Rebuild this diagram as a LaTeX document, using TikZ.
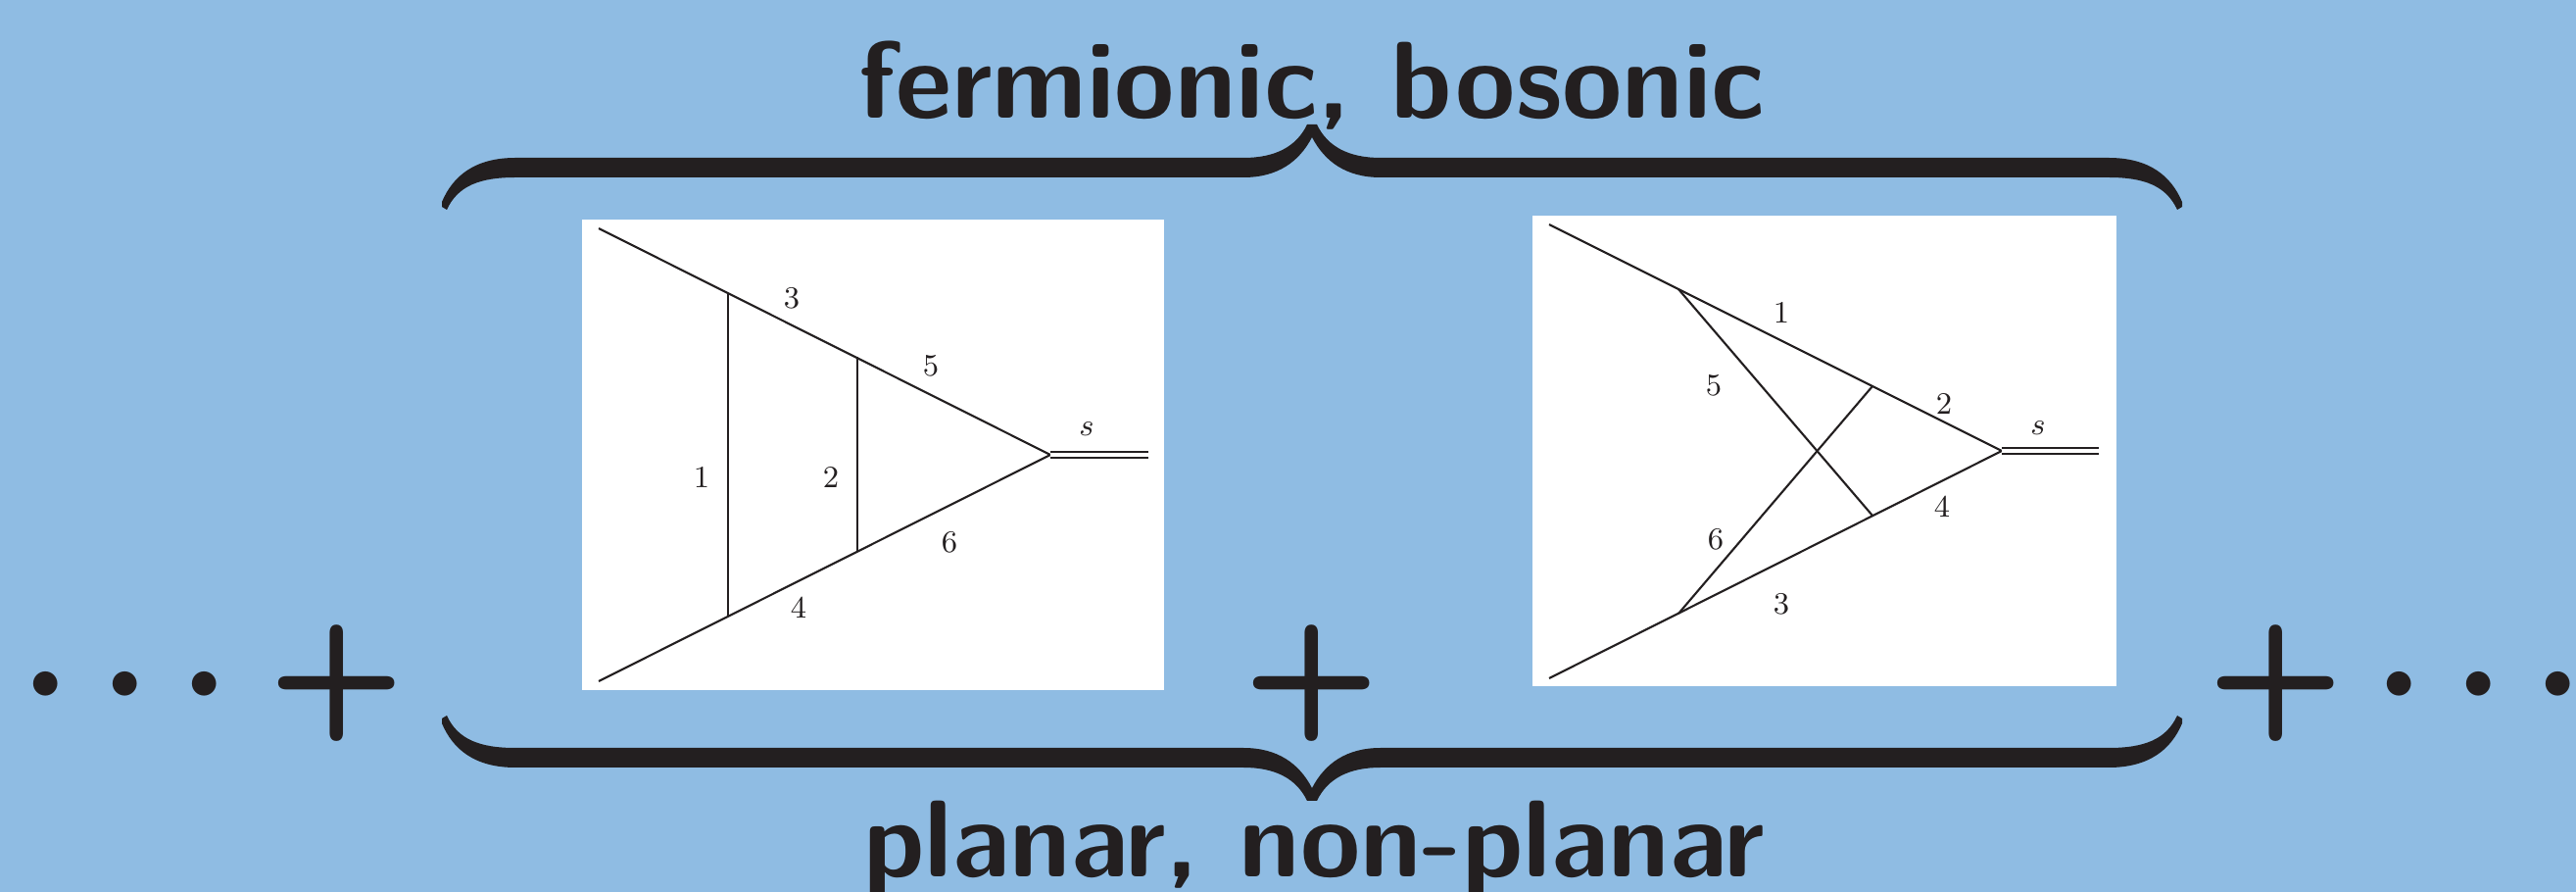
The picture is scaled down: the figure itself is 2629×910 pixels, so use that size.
\documentclass[tikz,border=0pt]{standalone}
\definecolor{skyback}{HTML}{8FBCE3}
\definecolor{inkdark}{HTML}{231F20}
\begin{document}
\begin{tikzpicture}[
  x=0.01cm, y=-0.01cm,
  every node/.style={inner sep=0pt},
  bigword/.style={anchor=base, text=inkdark, font=\fontsize{31.7}{36}\selectfont\sffamily\bfseries},
  bigplus/.style={anchor=base, text=inkdark, font=\fontsize{46}{52}\selectfont\sffamily\bfseries},
  bigdots/.style={anchor=base, scale=1.81, text=inkdark, font=\fontsize{24.88}{30}\selectfont\boldmath},
  panelbox/.style={fill=white, minimum height=4.8cm},
  edgeline/.style={line width=0.6pt, color=inkdark},
  massline/.style={edgeline, double=white, double distance=0.04cm},
  linenum/.style={font=\fontsize{9}{11}\selectfont, text=inkdark},
  bracefill/.pic={
    \fill[inkdark] (-888,206) .. controls (-877,180) and (-855,161) .. (-813,161) -- (-70,161)
      .. controls (-38,161) and (-16,150) .. (-5,127) -- (5,127)
      .. controls (16,150) and (38,161) .. (70,161) -- (813,161)
      .. controls (855,161) and (877,180) .. (888,206) -- (888,211) -- (883,214)
      .. controls (872,190) and (850,181) .. (813,181) -- (70,181)
      .. controls (35,181) and (13,165) .. (0,140)
      .. controls (-13,165) and (-35,181) .. (-70,181) -- (-813,181)
      .. controls (-850,181) and (-872,190) .. (-883,214) -- (-888,211) -- cycle;
  }
]
\useasboundingbox (0,0) rectangle (2629,910);
\fill[skyback] (0,0) rectangle (2629,910);

% Captions
\node[bigword] (topword) at (1339,121) {fermionic, bosonic};
\node[bigword] (lowword) at (1341,895) {planar, non-planar};

% Braces
\pic at (1339,0) {bracefill};
\pic[yscale=-1] at (1339,944) {bracefill};

% Signs
\node[bigdots] (dotsL) at (128,738) {$\cdots$};
\node[bigplus] (plusL) at (344,738) {+};
\node[bigplus] (plusM) at (1339,738) {+};
\node[bigplus] (plusR) at (2323,738) {+};
\node[bigdots] (dotsR) at (2530,738) {$\cdots$};

% Planar graph
\node[panelbox, minimum width=5.94cm] (panelA) at (891,464) {};
\coordinate (inA1) at (611,233);
\coordinate (inA2) at (611,695);
\coordinate (vtxA) at (1072,464);
\coordinate (endA) at (1172,464);
\coordinate (upA1) at (743,299);
\coordinate (upA2) at (875,364);
\coordinate (dnA1) at (743,629);
\coordinate (dnA2) at (875,563);
\draw[edgeline] (inA1) -- (vtxA) -- (inA2);
\draw[edgeline] (upA1) -- (dnA1);
\draw[edgeline] (upA2) -- (dnA2);
\draw[massline] (vtxA) -- (endA);
\node[linenum] (a1) at (716,487) {1};
\node[linenum] (a2) at (848,487) {2};
\node[linenum] (a3) at (808,304) {3};
\node[linenum] (a4) at (815,620) {4};
\node[linenum] (a5) at (950,373) {5};
\node[linenum] (a6) at (969,553) {6};
\node[linenum] (as) at (1109,438) {$s$};

% Non-planar graph
\node[panelbox, minimum width=5.96cm] (panelB) at (1862,460) {};
\coordinate (inB1) at (1581,229);
\coordinate (inB2) at (1581,692);
\coordinate (vtxB) at (2043,460);
\coordinate (endB) at (2142,460);
\coordinate (upB1) at (1713,295);
\coordinate (upB2) at (1911,394);
\coordinate (dnB1) at (1713,626);
\coordinate (dnB2) at (1911,526);
\draw[edgeline] (inB1) -- (vtxB) -- (inB2);
\draw[edgeline] (upB1) -- (dnB2);
\draw[edgeline] (dnB1) -- (upB2);
\draw[massline] (vtxB) -- (endB);
\node[linenum] (b1) at (1818,319) {1};
\node[linenum] (b2) at (1984,412) {2};
\node[linenum] (b3) at (1818,616) {3};
\node[linenum] (b4) at (1982,517) {4};
\node[linenum] (b5) at (1749,393) {5};
\node[linenum] (b6) at (1751,550) {6};
\node[linenum] (bs) at (2080,437) {$s$};
\end{tikzpicture}
\end{document}
